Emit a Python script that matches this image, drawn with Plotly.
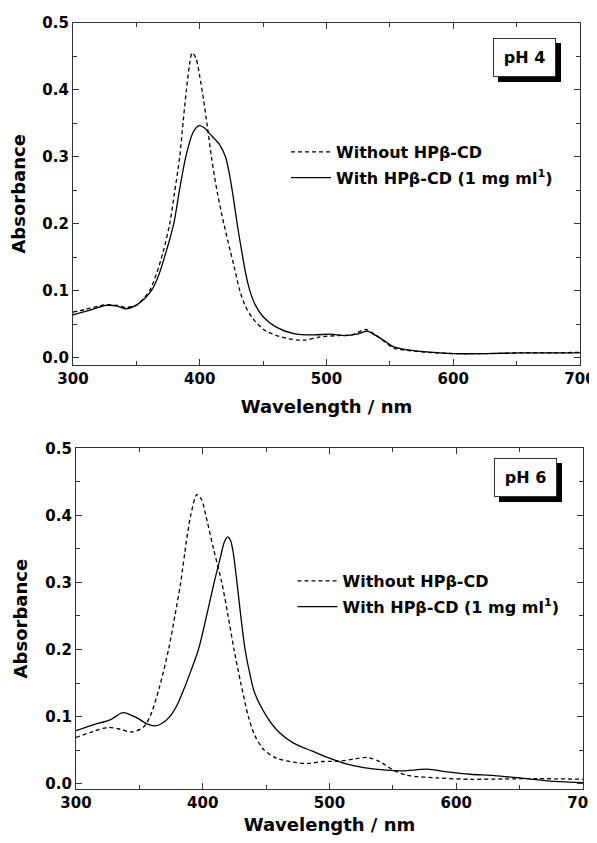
import plotly.graph_objects as go

# ---------------- data ----------------
wl_ph4_without = [300, 310, 320, 326, 335, 342, 350, 355, 360.5, 366, 371, 376.3, 380, 384.2, 387, 389.5, 392, 394, 397, 400, 403, 406, 409.2, 414, 419, 424, 427, 431.6, 436, 442, 452, 468, 482, 495, 510, 520, 531, 537, 543, 553, 563, 579, 600, 626, 653, 680, 700]
abs_ph4_without = [0.068, 0.072, 0.077, 0.079, 0.078, 0.075, 0.078, 0.087, 0.100, 0.126, 0.157, 0.200, 0.245, 0.300, 0.354, 0.400, 0.438, 0.455, 0.447, 0.420, 0.385, 0.345, 0.300, 0.245, 0.200, 0.160, 0.137, 0.100, 0.077, 0.058, 0.040, 0.029, 0.026, 0.031, 0.033, 0.034, 0.042, 0.036, 0.028, 0.014, 0.011, 0.008, 0.006, 0.006, 0.007, 0.007, 0.008]

wl_ph4_with = [300, 310, 320, 326, 335, 342, 352, 361.8, 367, 373, 379.5, 384, 389, 394.7, 399, 403, 408, 413, 416, 420.3, 423, 426, 429.5, 433, 436, 439.5, 444, 450, 460, 474, 490, 503, 515, 524, 532, 538, 545, 553, 563, 579, 600, 626, 653, 680, 700]
abs_ph4_with = [0.064, 0.069, 0.075, 0.078, 0.077, 0.073, 0.081, 0.100, 0.120, 0.155, 0.200, 0.250, 0.300, 0.336, 0.346, 0.344, 0.334, 0.324, 0.317, 0.300, 0.278, 0.245, 0.200, 0.160, 0.128, 0.100, 0.078, 0.061, 0.046, 0.036, 0.034, 0.035, 0.033, 0.035, 0.0395, 0.034, 0.026, 0.016, 0.012, 0.0085, 0.006, 0.006, 0.007, 0.007, 0.007]

wl_ph6_without = [300, 314, 325.5, 335, 344, 353, 358.4, 366, 373, 378, 382.6, 387, 390.5, 395.3, 399, 402.4, 408.5, 415, 420, 424.7, 430, 436, 441, 448, 458, 472, 482, 495, 508, 520, 530, 540, 550.5, 561, 585, 611, 637, 664, 700]
abs_ph6_without = [0.069, 0.078, 0.084, 0.081, 0.077, 0.084, 0.100, 0.145, 0.200, 0.250, 0.300, 0.360, 0.400, 0.431, 0.424, 0.400, 0.350, 0.300, 0.250, 0.200, 0.150, 0.100, 0.072, 0.051, 0.038, 0.032, 0.030, 0.033, 0.0335, 0.037, 0.039, 0.0325, 0.020, 0.0125, 0.0085, 0.0065, 0.007, 0.0075, 0.0065]

wl_ph6_with = [300, 314, 327, 337, 348, 356, 362, 368, 374, 380, 386, 391, 396.6, 403, 409, 414, 417, 419.7, 422, 424, 427, 430, 433.4, 437, 441, 450.5, 460, 472, 487, 500, 514, 527, 545, 558, 577, 593, 611, 630, 650, 677, 700]
abs_ph6_with = [0.079, 0.088, 0.095, 0.106, 0.098, 0.089, 0.086, 0.090, 0.100, 0.118, 0.145, 0.170, 0.200, 0.250, 0.300, 0.338, 0.360, 0.368, 0.362, 0.345, 0.300, 0.250, 0.200, 0.165, 0.135, 0.100, 0.077, 0.060, 0.048, 0.038, 0.029, 0.024, 0.020, 0.019, 0.0215, 0.0175, 0.014, 0.012, 0.0085, 0.0035, 0.0015]

label_without = "Without HPβ-CD"
label_with = "With HPβ-CD (1 mg ml<sup>1</sup>)"
panel_labels = ["pH 4", "pH 6"]
x_ticks = [300, 400, 500, 600, 700]
y_ticks = [0.0, 0.1, 0.2, 0.3, 0.4, 0.5]

# ---------------- figure ----------------
# the page body has an 8 px margin, so the figure starts 8 px in from the window edge
OFF = 8
W, H = 597 - OFF, 843 - 2 * OFF
FONT = "DejaVu Sans, Arial, sans-serif"
fig = go.Figure()

line_w = 1.3
dash = "4px,3px"

fig.add_trace(go.Scatter(x=wl_ph4_without, y=abs_ph4_without, mode="lines", name=label_without,
                         line=dict(color="black", width=line_w, dash=dash, shape="spline", smoothing=0.8),
                         xaxis="x", yaxis="y", legend="legend", legendgroup="a"))
fig.add_trace(go.Scatter(x=wl_ph4_with, y=abs_ph4_with, mode="lines", name=label_with,
                         line=dict(color="black", width=line_w, shape="spline", smoothing=0.8),
                         xaxis="x", yaxis="y", legend="legend", legendgroup="b"))
fig.add_trace(go.Scatter(x=wl_ph6_without, y=abs_ph6_without, mode="lines", name=label_without,
                         line=dict(color="black", width=line_w, dash=dash, shape="spline", smoothing=0.8),
                         xaxis="x2", yaxis="y2", legend="legend2", legendgroup="c"))
fig.add_trace(go.Scatter(x=wl_ph6_with, y=abs_ph6_with, mode="lines", name=label_with,
                         line=dict(color="black", width=line_w, shape="spline", smoothing=0.8),
                         xaxis="x2", yaxis="y2", legend="legend2", legendgroup="d"))


def px_x(p):
    return (p - OFF) / W


def px_y(p):
    return 1 - (p - OFF) / H


tickfont = dict(family=FONT, size=15, color="black", weight="bold")
titlefont = dict(family=FONT, size=18, color="black", weight="bold")
legfont = dict(family=FONT, size=16, color="black", weight="bold")

common_x = dict(range=[300, 700], tickvals=x_ticks, ticks="inside", ticklen=6, tickwidth=1.2,
                tickcolor="#333", showline=True, linecolor="#333", linewidth=1.3, mirror="ticks",
                showgrid=False, zeroline=False, tickfont=tickfont, automargin=False,
                ticklabeloverflow="allow",
                minor=dict(dtick=50, ticks="inside", ticklen=4, tickwidth=1.2, tickcolor="#333"))
common_y = dict(tickvals=y_ticks, tickformat=".1f", ticks="inside", ticklen=6, tickwidth=1.2,
                tickcolor="#333", showline=True, linecolor="#333", linewidth=1.3, mirror="ticks",
                showgrid=False, zeroline=False, tickfont=tickfont, automargin=False,
                ticklabeloverflow="allow",
                minor=dict(dtick=0.05, ticks="inside", ticklen=4, tickwidth=1.2, tickcolor="#333"),
                title=dict(text="Absorbance", font=titlefont, standoff=12))

fig.update_layout(
    width=W, height=H,
    margin=dict(l=0, r=0, t=0, b=0, autoexpand=False),
    paper_bgcolor="white", plot_bgcolor="white",
    xaxis=dict(domain=[px_x(73), px_x(580)], anchor="y",
               title=dict(text="Wavelength / nm", font=titlefont, standoff=13), **common_x),
    yaxis=dict(domain=[px_y(365), px_y(22.7)], anchor="x", range=[-0.011, 0.5], **common_y),
    xaxis2=dict(domain=[px_x(76), px_x(583)], anchor="y2",
                title=dict(text="Wavelength / nm", font=titlefont, standoff=14), **common_x),
    yaxis2=dict(domain=[px_y(789), px_y(448.3)], anchor="x2", range=[-0.008, 0.5], **common_y),
    legend=dict(x=px_x(286), y=px_y(135), xanchor="left", yanchor="top", xref="paper", yref="paper",
                bgcolor="rgba(0,0,0,0)", font=legfont, tracegroupgap=2, itemwidth=40),
    legend2=dict(x=px_x(292.5), y=px_y(564), xanchor="left", yanchor="top", xref="paper", yref="paper",
                 bgcolor="rgba(0,0,0,0)", font=legfont, tracegroupgap=2, itemwidth=40),
    showlegend=True,
)

# panel labels with drop shadow
for lbl, cx, cy in [(panel_labels[0], 524.4, 57.2), (panel_labels[1], 525.8, 477.5)]:
    for shadow in (True, False):
        fig.add_annotation(x=px_x(cx), y=px_y(cy), xref="paper", yref="paper", text=lbl, showarrow=False,
                           xanchor="center", yanchor="middle",
                           xshift=5 if shadow else 0, yshift=-5 if shadow else 0,
                           width=59, height=35, borderwidth=1, borderpad=1,
                           bgcolor="black" if shadow else "white",
                           bordercolor="black" if shadow else "#333",
                           font=dict(family=FONT, size=16, color="black", weight="bold"))

fig.write_html("out.html")
